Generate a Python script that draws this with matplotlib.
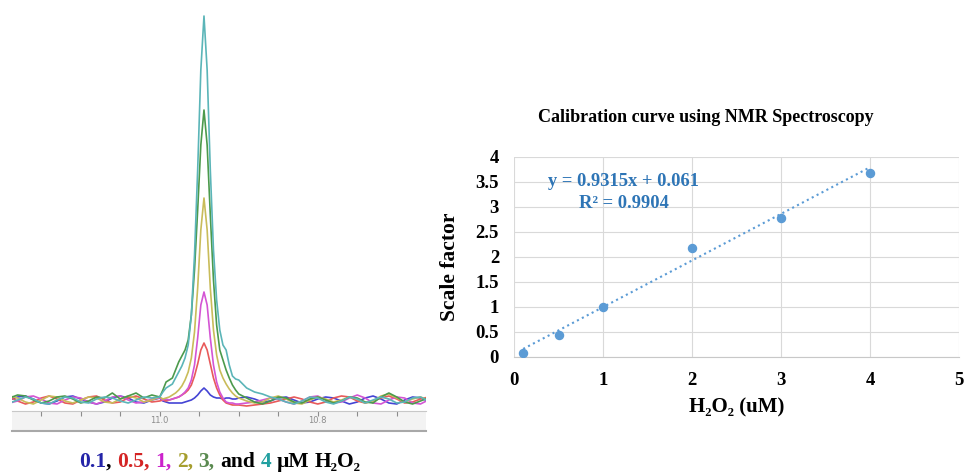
import numpy as np
import matplotlib
matplotlib.use('Agg')
import matplotlib.pyplot as plt
from matplotlib.ticker import MultipleLocator, FormatStrFormatter

plt.rcParams['font.family'] = ['Liberation Serif', 'DejaVu Serif']
plt.rcParams['font.weight'] = 'bold'

# --- espectros de RMN (ppm x intensidade, unidades arbitrarias) ---
ppm = [11.19, 11.18, 11.17, 11.16, 11.15, 11.14, 11.13, 11.12, 11.11, 11.10,
       11.09, 11.08, 11.07, 11.06, 11.05, 11.04, 11.03, 11.02, 11.01, 11.00,
       10.996, 10.992, 10.988, 10.984, 10.980, 10.976, 10.972, 10.968, 10.964, 10.960,
       10.956, 10.952, 10.948, 10.944, 10.940, 10.936, 10.932, 10.928, 10.924, 10.920,
       10.916, 10.912, 10.908, 10.904,
       10.90, 10.89, 10.88, 10.87, 10.86, 10.85, 10.84, 10.83, 10.82, 10.81,
       10.80, 10.79, 10.78, 10.77, 10.76, 10.75, 10.74, 10.73, 10.72, 10.71,
       10.70, 10.69, 10.68, 10.67, 10.66]

int_01 = [0, 3, 4, 1, -3, -4, -1, 3, 4, 1, -2, -4, -2, 2, 4, 2, -2, -3, 0, 2,
          -1, -2, -3, -3, -3, -3, -3, -2, -1, 0, 2, 5, 9, 12, 9, 5, 3, 2, 2, 1, 2, 2, 1, 1,
          2, 3, 1, -2, -1, 2, 3, 0, -3, -2, 1, 3, 2, -1, -4, -2, 2, 4, 1, -3, -4, 0, 3, 2, -1]
int_05 = [3, -1, -4, -2, 2, 4, 1, -3, -4, 0, 3, 4, 0, -3, -2, 2, 4, 1, -2, -1,
          0, -1, 0, 1, 2, 3, 5, 7, 10, 15, 24, 36, 50, 57, 50, 36, 22, 12, 5, 0, -3, -4, -5, -5,
          -5, -6, -5, -4, -3, -1, 1, 3, 1, -2, -4, -2, 2, 4, 3, -1, -3, -1, 2, 4, 1, -3, -2, 1, 3]
int_1 = [-3, -1, 3, 4, 1, -3, -4, 0, 3, 2, -2, -4, -1, 3, 4, 0, -3, -2, 1, 2,
         0, 1, 0, 1, 2, 3, 5, 8, 12, 20, 35, 62, 95, 108, 95, 62, 35, 18, 8, 2, -2, -3, -3, -4,
         -4, -3, -2, 0, 2, 1, -2, -4, -1, 3, 4, 0, -3, -2, 2, 5, 2, -3, -4, 0, 3, 2, -3, -4, 0]
int_2 = [4, 2, -2, -4, 0, 4, 3, -1, -3, 0, 3, 2, -2, -3, 1, 4, 2, -2, 0, 3,
         1, 2, 3, 5, 7, 10, 14, 20, 28, 42, 68, 112, 170, 202, 170, 112, 70, 45, 30, 22, 16, 11, 7, 4,
         2, -1, -3, -2, 2, 4, 1, -3, -4, 0, 3, 1, -2, 0, 3, 1, -3, -1, 4, 6, 2, -2, 1, 3, 0]
int_3 = [2, 5, 4, 0, -3, -1, 3, 4, 1, -3, -1, 3, 2, 7, 1, 4, 7, 2, 5, 3,
         10, 18, 20, 22, 30, 38, 44, 50, 60, 85, 130, 190, 255, 290, 255, 185, 120, 75, 50, 40, 30, 22, 15, 10,
         6, 2, -2, -4, -1, 3, 2, -2, -3, 1, 3, 0, -3, -1, 3, 2, -2, -3, 3, 7, 3, -2, -4, -1, 2]
int_4 = [-3, 0, 3, 1, -3, -4, 0, 3, 2, -2, -3, 1, 3, 2, -1, -3, 0, 3, 2, 3,
         8, 12, 14, 16, 22, 28, 34, 42, 55, 85, 145, 230, 330, 384, 330, 230, 150, 100, 70, 55, 50, 35, 24, 21,
         20, 12, 8, 6, 3, 1, -2, -4, -1, 3, 2, -2, -4, -1, 3, 1, -3, 0, 3, 1, -3, -2, 2, 3, -1]

espectros = [int_01, int_05, int_1, int_2, int_3, int_4]
cores_linha = ['#4444d4', '#e85a5a', '#d455d4', '#c9bc5a', '#4c9a4c', '#5bb5b8']
ruler_ticks = [11.0, 10.8]

# --- curva de calibracao ---
h2o2 = [0.1, 0.5, 1, 2, 3, 4]
scale_factor = [0.07, 0.44, 0.99, 2.17, 2.78, 3.68]
slope, intercept, r2 = 0.9315, 0.061, 0.9904
y_tick_labels = ['0', '0.5', '1', '1.5', '2', '2.5', '3', '3.5', '4']

W, H = 965, 473
fig = plt.figure(figsize=(W / 100, H / 100), dpi=100)

# espectros
ax1 = fig.add_axes([12 / W, 1 - 411 / H, 414 / W, 411 / H])
for y, c in zip(espectros, cores_linha):
    ax1.plot(ppm, y, color=c, lw=1.2)
ax1.set_xlim(11.187, 10.663)
ax1.set_ylim(-11, 400)
ax1.axis('off')

# regua de ppm
axr = fig.add_axes([12 / W, 1 - 431 / H, 414 / W, 20 / H])
axr.set_facecolor('#f3f3f3')
axr.set_xlim(11.187, 10.663)
axr.set_yticks([])
axr.set_xticks(ruler_ticks)
axr.xaxis.set_minor_locator(MultipleLocator(0.05))
axr.xaxis.set_major_formatter(FormatStrFormatter('%.1f'))
axr.tick_params(axis='x', which='both', top=True, bottom=False, direction='in',
                length=3.5, width=0.8, color='#8c8c8c', labeltop=False,
                labelbottom=True, pad=-11, labelsize=6, labelcolor='#8c8c8c')
for lbl in axr.get_xticklabels():
    lbl.set_family('DejaVu Sans')
    lbl.set_weight('normal')
for s in ['left', 'right']:
    axr.spines[s].set_visible(False)
axr.spines['top'].set_color('#c8c8c8')
axr.spines['bottom'].set_color('#a8a8a8')
axr.spines['bottom'].set_linewidth(1.5)

# legenda colorida embaixo
partes = [('0.1', '#2424a8', 0), (',', 'black', 0), ('0.5,', '#d42424', 1),
          ('1,', '#cc22cc', 1), ('2,', '#a69e2e', 1), ('3,', '#5a8a50', 1),
          ('and', 'black', 1), ('4', '#22a0a0', 1), ('µM', 'black', 1), ('H₂O₂', 'black', 1)]
renderer = fig.canvas.get_renderer()
x = 79
espaco = 5.5
for s, c, gap in partes:
    x += gap * espaco
    t = fig.text(x / W, 1 - 467 / H, s, color=c, fontsize=15.5, va='baseline')
    x += t.get_window_extent(renderer).width

# curva de calibracao
ax2 = fig.add_axes([514.3 / W, 1 - 356.6 / H, 444.7 / W, 200 / H])
ax2.plot(h2o2, scale_factor, 'o', color='#5b9bd5', ms=5.8, zorder=3)
xs = np.array([h2o2[0], h2o2[-1]])
ax2.plot(xs, slope * xs + intercept, ':', color='#5b9bd5', lw=1.5)
ax2.set_xlim(0, 5)
ax2.set_ylim(0, 4)
ax2.set_xticks(range(6))
ax2.set_yticks(np.arange(0, 4.01, 0.5))
ax2.set_yticklabels(y_tick_labels)
ax2.grid(True, color='#d9d9d9', lw=0.8)
ax2.set_axisbelow(True)
ax2.tick_params(length=0, labelsize=13.5)
ax2.tick_params(axis='y', pad=11)
ax2.tick_params(axis='x', pad=11)
for s in ['left', 'right', 'top']:
    ax2.spines[s].set_visible(False)
ax2.spines['bottom'].set_color('#c8c8c8')

ax2.text(1.233, 3.50, 'y = 0.9315x + 0.061', color='#2e75b6', fontsize=13.3,
         ha='center', va='center')
ax2.text(1.233, 3.06, 'R² = 0.9904', color='#2e75b6', fontsize=13.3,
         ha='center', va='center')

ax2.set_ylabel('Scale factor', fontsize=15.5, fontweight='bold', va='center')
ax2.yaxis.set_label_coords(-0.145, 0.45)
ax2.set_xlabel('H₂O₂ (uM)', fontsize=15, fontweight='bold', va='center')
ax2.xaxis.set_label_coords(0.5, -0.255)

fig.text(706 / W, 1 - 118 / H, 'Calibration curve using NMR Spectroscopy',
         fontsize=13, ha='center', va='center')

fig.savefig('out.png', dpi=100)
